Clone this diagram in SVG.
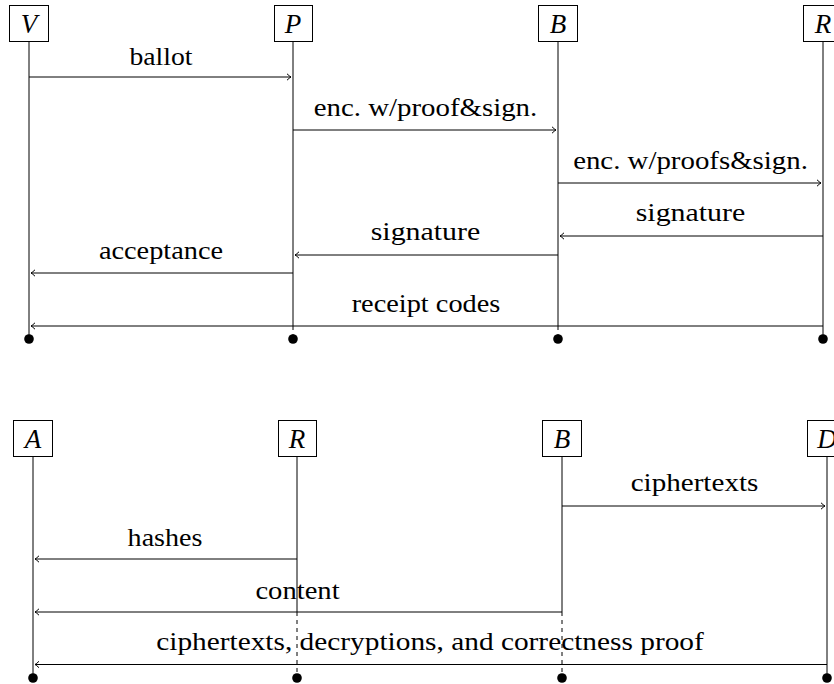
<svg xmlns="http://www.w3.org/2000/svg" width="834" height="684" viewBox="0 0 834 684">
<style>
.box{fill:#fff;stroke:#000;stroke-width:1}
.nl{font-family:'Liberation Serif','Times New Roman',serif;font-style:italic;font-size:27px;text-anchor:middle;fill:#000}
.life{stroke:#000;stroke-width:1;fill:none}
.dash{stroke:#000;stroke-width:1;stroke-dasharray:4 4;fill:none}
.msg{stroke:#000;stroke-width:1;fill:none;marker-end:url(#ah)}
.lbl{font-family:'Liberation Serif','Times New Roman',serif;font-size:26px;text-anchor:middle;fill:#000}
.dot{fill:#000}
</style>
<defs>
<marker id="ah" viewBox="-6 -5 7 10" refX="0" refY="0" markerWidth="7" markerHeight="10" orient="auto" markerUnits="userSpaceOnUse">
<path d="M-4,-3.2 Q-1.5,-0.8 0,0 Q-1.5,0.8 -4,3.2" fill="none" stroke="#000" stroke-width="1"/>
</marker>
</defs>
<rect width="834" height="684" fill="#fff"/>

<g id="lifelines-top">
<line class="life" x1="29" y1="42" x2="29" y2="339"/>
<line class="life" x1="293" y1="42" x2="293" y2="326"/>
<line class="dash" x1="293" y1="326" x2="293" y2="339"/>
<line class="life" x1="558" y1="42" x2="558" y2="326"/>
<line class="dash" x1="558" y1="326" x2="558" y2="339"/>
<line class="life" x1="823" y1="42" x2="823" y2="339"/>
<circle class="dot" cx="29" cy="339" r="4.8"/>
<circle class="dot" cx="293" cy="339" r="4.8"/>
<circle class="dot" cx="558" cy="339" r="4.8"/>
<circle class="dot" cx="823" cy="339" r="4.8"/>
</g>

<g id="node-V"><rect class="box" x="9.5" y="5.5" width="39" height="36"/><text class="nl" x="29" y="33">V</text></g>
<g id="node-P"><rect class="box" x="274.5" y="5.5" width="38" height="36"/><text class="nl" x="293" y="33">P</text></g>
<g id="node-B"><rect class="box" x="538.5" y="5.5" width="39" height="36"/><text class="nl" x="558" y="33">B</text></g>
<g id="node-R"><rect class="box" x="803.5" y="5.5" width="39" height="36"/><text class="nl" x="823" y="33">R</text></g>

<g id="connectors-top">
<line class="msg" x1="29" y1="77" x2="291" y2="77"/>
<text class="lbl" transform="translate(161,65) scale(1.064,1)">ballot</text>
<line class="msg" x1="293" y1="130" x2="556" y2="130"/>
<text class="lbl" transform="translate(425.5,116) scale(1.11,1)">enc.  w/proof&amp;sign.</text>
<line class="msg" x1="558" y1="183" x2="821" y2="183"/>
<text class="lbl" transform="translate(690.5,169) scale(1.11,1)">enc.  w/proofs&amp;sign.</text>
<line class="msg" x1="823" y1="236" x2="560" y2="236"/>
<text class="lbl" transform="translate(690.5,221) scale(1.15,1)">signature</text>
<line class="msg" x1="558" y1="255" x2="295" y2="255"/>
<text class="lbl" transform="translate(425.5,240) scale(1.15,1)">signature</text>
<line class="msg" x1="293" y1="273" x2="31" y2="273"/>
<text class="lbl" transform="translate(161,259) scale(1.09,1)">acceptance</text>
<line class="msg" x1="823" y1="326" x2="31" y2="326"/>
<text class="lbl" transform="translate(426,312) scale(1.09,1)">receipt codes</text>
</g>

<g id="lifelines-bottom">
<line class="life" x1="33" y1="457" x2="33" y2="678"/>
<line class="life" x1="297" y1="457" x2="297" y2="612"/>
<line class="dash" x1="297" y1="612" x2="297" y2="678"/>
<line class="life" x1="562" y1="457" x2="562" y2="612"/>
<line class="dash" x1="562" y1="612" x2="562" y2="678"/>
<line class="life" x1="827" y1="457" x2="827" y2="678"/>
<circle class="dot" cx="33" cy="678" r="4.8"/>
<circle class="dot" cx="297" cy="678" r="4.8"/>
<circle class="dot" cx="562" cy="678" r="4.8"/>
<circle class="dot" cx="827" cy="678" r="4.8"/>
</g>

<g id="node-A"><rect class="box" x="13.5" y="420.5" width="39" height="36"/><text class="nl" x="33" y="448">A</text></g>
<g id="node-R2"><rect class="box" x="278.5" y="420.5" width="38" height="36"/><text class="nl" x="297" y="448">R</text></g>
<g id="node-B2"><rect class="box" x="542.5" y="420.5" width="39" height="36"/><text class="nl" x="562" y="448">B</text></g>
<g id="node-D"><rect class="box" x="807.5" y="420.5" width="40" height="36"/><text class="nl" x="827" y="448">D</text></g>

<g id="connectors-bottom">
<line class="msg" x1="562" y1="506" x2="825" y2="506"/>
<text class="lbl" transform="translate(694.5,491) scale(1.12,1)">ciphertexts</text>
<line class="msg" x1="297" y1="559" x2="35" y2="559"/>
<text class="lbl" transform="translate(165,546) scale(1.08,1)">hashes</text>
<line class="msg" x1="562" y1="612" x2="35" y2="612"/>
<text class="lbl" transform="translate(297.5,599) scale(1.1,1)">content</text>
<line class="msg" x1="827" y1="664.5" x2="35" y2="664.5"/>
<text class="lbl" transform="translate(430,650) scale(1.129,1)">ciphertexts, decryptions, and correctness proof</text>
</g>
</svg>
